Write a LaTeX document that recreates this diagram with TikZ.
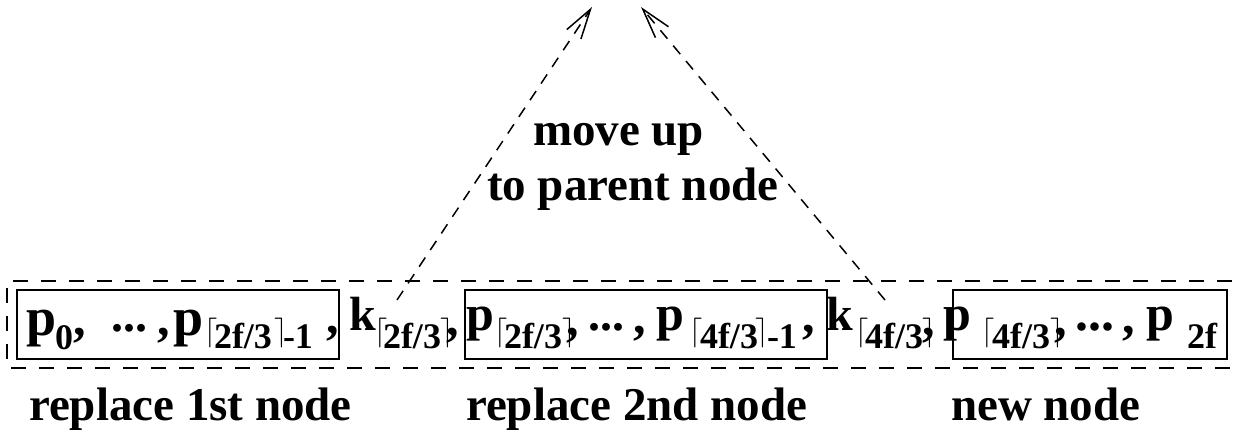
\documentclass[tikz,border=0pt]{standalone}
\usepackage{graphicx}
\usepackage{fontspec}
\setmainfont{Liberation Serif}
\usetikzlibrary{arrows.meta}
\newcommand\fsz[1]{\fontsize{#1}{#1}\selectfont}
\newcommand\myl{\scalebox{1.2}{$\lceil$}}
\newcommand\myr{\scalebox{1.2}{$\rceil$}}
\begin{document}
\begin{tikzpicture}[x=1pt,y=-1pt,
  txt/.style={anchor=base west, inner sep=0pt, outer sep=0pt},
  pbig/.style={txt, font=\bfseries\fsz{54}},
  pmain/.style={txt, font=\bfseries\fsz{50}},
  kmain/.style={txt, font=\bfseries\fsz{48}},
  sub/.style={txt, font=\bfseries\fsz{36}},
  dots/.style={txt, font=\bfseries\fsz{48}},
  lbl/.style={txt, font=\bfseries\fsz{47}},
  ceil/.style={txt, font=\fontsize{24.88}{26}\selectfont},
  nodebox/.style={draw, line width=2pt},
  outerbox/.style={draw, line width=2pt, dash pattern=on 15pt off 13pt},
  moveup/.style={line width=1.5pt, dash pattern=on 11pt off 9pt,
     -{Straight Barb[length=30pt,width=17pt,line width=1.5pt]}}
]
\useasboundingbox (0,0) rectangle (1233,440);

% boxes
\draw[outerbox] (1260,281) -- (7,281) -- (7,368) -- (1260,368);
\node[nodebox, inner sep=0pt, minimum width=322pt, minimum height=69pt] (box1) at (178,324.5) {};
\node[nodebox, inner sep=0pt, minimum width=362pt, minimum height=69pt] (box2) at (646,324.5) {};
\node[nodebox, inner sep=0pt, minimum width=274pt, minimum height=69pt] (box3) at (1090,324.5) {};

% box 1 text
\node[pbig] (b1p0) at (26,335) {p};
\node[sub] (b1s0) at (55,349) {0};
\node[pmain] (b1c1) at (73,335) {,};
\node[dots] (b1d) at (111,331) {...};
\node[pmain] (b1c2) at (157,335) {,};
\node[pbig] (b1p1) at (173,335) {p};
\node[ceil] (b1l) at (204,340.5) {\myl};
\node[sub] (b1s1) at (214,348) {2f/3};
\node[ceil] (b1r) at (274,340.5) {\myr};
\node[sub] (b1m) at (283,348) {-1};
\node[pmain] (b1c3) at (326,333) {,};

% k 1
\node[kmain] (k1) at (349,330) {k};
\node[ceil] (k1l) at (374,340.5) {\myl};
\node[sub] (k1s) at (383,348) {2f/3};
\node[ceil] (k1r) at (440,340.5) {\myr};
\node[pmain] (k1c) at (446,335) {,};

% box 2 text
\node[pmain] (b2p0) at (466,330) {p};
\node[ceil] (b2l0) at (494,340.5) {\myl};
\node[sub] (b2s0) at (504,348) {2f/3};
\node[ceil] (b2r0) at (562,340.5) {\myr};
\node[pmain] (b2c0) at (566,335) {,};
\node[dots] (b2d) at (588,330) {...};
\node[pmain] (b2c1) at (633,333) {,};
\node[pmain] (b2p1) at (656,330) {p};
\node[ceil] (b2l1) at (689,340.5) {\myl};
\node[sub] (b2s1) at (700,348) {4f/3};
\node[ceil] (b2r1) at (755,340.5) {\myr};
\node[sub] (b2m) at (767,348) {-1};
\node[pmain] (b2c2) at (802,332) {,};

% k 2
\node[kmain] (k2) at (826,330) {k};
\node[ceil] (k2l) at (855,340.5) {\myl};
\node[sub] (k2s) at (865,348) {4f/3};
\node[ceil] (k2r) at (922,340.5) {\myr};
\node[pmain] (k2c) at (922,335) {,};

% box 3 text
\node[pmain] (b3p0) at (943,330) {p};
\node[ceil] (b3l) at (981,340.5) {\myl};
\node[sub] (b3s) at (992,348) {4f/3};
\node[ceil] (b3r) at (1050,340.5) {\myr};
\node[pmain] (b3c0) at (1054,335) {,};
\node[txt, font=\bfseries\fsz{52}] (b3d) at (1075,330) {...};
\node[pmain] (b3c1) at (1122,333) {,};
\node[pmain] (b3p1) at (1146,330) {p};
\node[sub] (b3s1) at (1187,348) {2f};

% labels
\node[lbl] (lab1) at (29,420) {replace 1st node};
\node[lbl] (lab2) at (466,420) {replace 2nd node};
\node[lbl] (lab3) at (951,420) {new node};
\node[lbl] (mv1) at (533,145) {move up};
\node[lbl] (mv2) at (487,200) {to parent node};

% arrows
\coordinate (a1s) at (397,300);
\coordinate (a1e) at (592,7);
\coordinate (a2s) at (885,300);
\coordinate (a2e) at (641,7);
\draw[moveup] (a1s) -- (a1e);
\draw[moveup] (a2s) -- (a2e);
\end{tikzpicture}
\end{document}
